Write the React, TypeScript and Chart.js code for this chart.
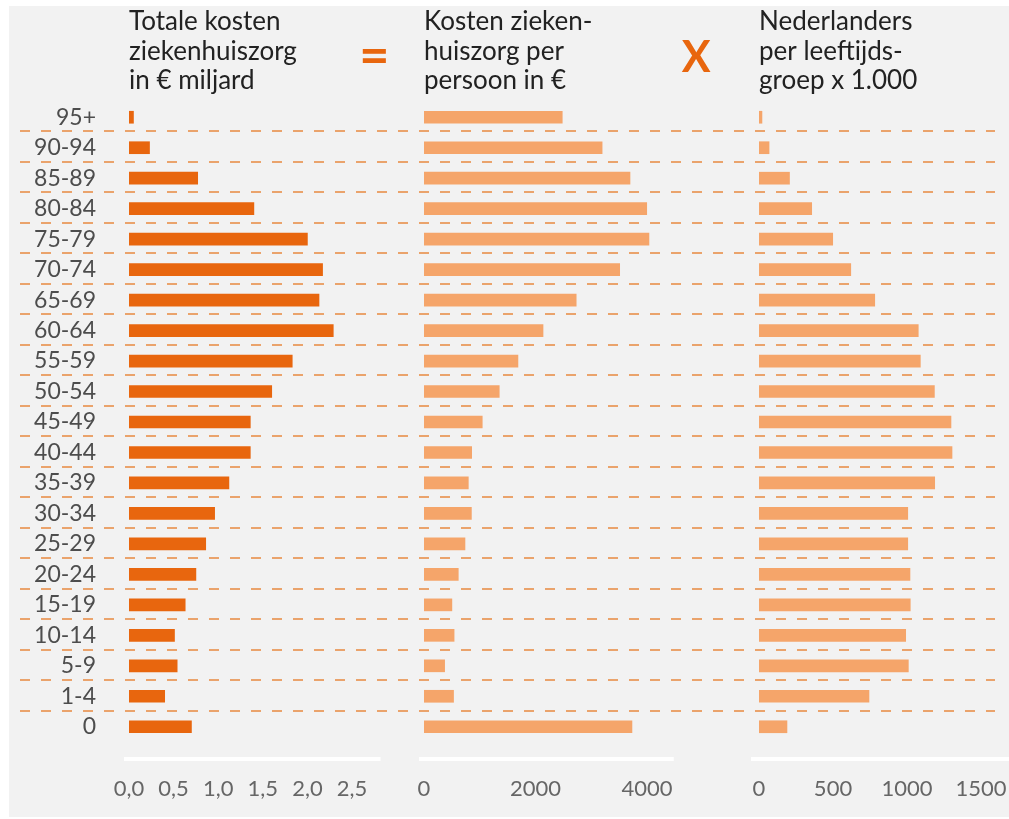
import React, { useEffect, useRef } from 'react';
import { Chart, registerables } from 'chart.js';

Chart.register(...registerables);

// ---- Data -----------------------------------------------------------------
const ageGroups = [
  '95+', '90-94', '85-89', '80-84', '75-79', '70-74', '65-69', '60-64', '55-59', '50-54',
  '45-49', '40-44', '35-39', '30-34', '25-29', '20-24', '15-19', '10-14', '5-9', '1-4', '0',
];

// Totale kosten ziekenhuiszorg in € miljard
const totalCostBillion = [
  0.05, 0.23, 0.77, 1.4, 2.0, 2.17, 2.13, 2.29, 1.83, 1.6,
  1.36, 1.36, 1.12, 0.96, 0.86, 0.75, 0.63, 0.51, 0.54, 0.4, 0.7,
];

// Kosten ziekenhuiszorg per persoon in €
const costPerPerson = [
  2480, 3195, 3695, 3995, 4035, 3510, 2730, 2135, 1685, 1350,
  1045, 855, 795, 850, 735, 615, 500, 540, 370, 530, 3730,
];

// Nederlanders per leeftijdsgroep x 1.000
const populationThousands = [
  20, 68, 206, 356, 498, 620, 782, 1076, 1090, 1185,
  1297, 1304, 1187, 1005, 1005, 1020, 1022, 991, 1009, 743, 189,
];

const ticksPanel1 = [0, 0.5, 1, 1.5, 2, 2.5];
const ticksPanel2 = [0, 2000, 4000];
const ticksPanel3 = [0, 500, 1000, 1500];

const titlePanel1 = ['Totale kosten', 'ziekenhuiszorg', 'in € miljard'];
const titlePanel2 = ['Kosten zieken-', 'huiszorg per', 'persoon in €'];
const titlePanel3 = ['Nederlanders', 'per leeftijds-', 'groep x 1.000'];
const symbolEquals = '=';
const symbolTimes = 'X';

// ---- Styles / layout ------------------------------------------------------
const W = 1009;
const H = 819;
const DARK = '#E8660E';
const LIGHT = '#F5A56A';
const DASH = '#EAA36C';
const FONT = 'Lato, "Open Sans", sans-serif';
const TICK_COLOR = '#666666';
const LABEL_COLOR = '#4D4D4D';
const TITLE_COLOR = '#222222';

const panelMax = [3.307, 6009, 1689];
const panelWeight = [295, 335, 250];
const baseLineEnd = [2.82, 4480, null as number | null];

const fmtComma = (v: number) => v.toFixed(1).replace('.', ',');
const fmtInt = (v: number) => String(v);

function xAxis(max: number, weight: number, ticks: number[], fmt: (v: number) => string) {
  return {
    type: 'linear' as const,
    position: 'bottom' as const,
    stack: 'panels',
    stackWeight: weight,
    min: 0,
    max,
    grid: { display: false, drawTicks: false },
    border: { display: false },
    afterBuildTicks: (s: any) => {
      s.ticks = ticks.map((v) => ({ value: v }));
    },
    afterFit: (s: any) => {
      s.height = 77;
      s.paddingLeft = 0;
      s.paddingRight = 0;
    },
    ticks: {
      autoSkip: false,
      maxRotation: 0,
      minRotation: 0,
      padding: 34,
      color: TICK_COLOR,
      font: { family: FONT, size: 22 },
      callback: (v: any) => fmt(Number(v)),
    },
  };
}

const decorPlugin = {
  id: 'decor',
  beforeDatasetsDraw(chart: any) {
    const ctx = chart.ctx as CanvasRenderingContext2D;
    const y = chart.scales.y;
    ctx.save();
    // dashed separators between age groups
    ctx.strokeStyle = DASH;
    ctx.lineWidth = 2;
    ctx.setLineDash([10, 11]);
    for (let i = 0; i < ageGroups.length - 1; i++) {
      const py = Math.round((y.getPixelForValue(i) + y.getPixelForValue(i + 1)) / 2) - 1;
      ctx.beginPath();
      ctx.moveTo(20, py);
      ctx.lineTo(995, py);
      ctx.stroke();
    }
    ctx.setLineDash([]);
    // white base lines under each panel
    const baseY = chart.chartArea.bottom + 17;
    ctx.strokeStyle = '#FFFFFF';
    ctx.lineWidth = 4;
    ['x1', 'x2', 'x3'].forEach((id, k) => {
      const s = chart.scales[id];
      const x0 = s.getPixelForValue(0) - (k === 2 ? 8 : 5);
      const end = baseLineEnd[k];
      const x1 = end === null ? chart.width : s.getPixelForValue(end);
      ctx.beginPath();
      ctx.moveTo(x0, baseY);
      ctx.lineTo(x1, baseY);
      ctx.stroke();
    });
    ctx.restore();
  },
  afterDraw(chart: any) {
    const ctx = chart.ctx as CanvasRenderingContext2D;
    ctx.save();
    ctx.fillStyle = TITLE_COLOR;
    ctx.font = `26px ${FONT}`;
    ctx.textAlign = 'left';
    ctx.textBaseline = 'alphabetic';
    const titles = [titlePanel1, titlePanel2, titlePanel3];
    ['x1', 'x2', 'x3'].forEach((id, k) => {
      const left = chart.scales[id].getPixelForValue(0);
      titles[k].forEach((line, j) => {
        ctx.fillText(line, left, 30 + j * 29.5);
      });
    });
    ctx.fillStyle = DARK;
    ctx.textAlign = 'center';
    ctx.textBaseline = 'middle';
    ctx.font = `bold 52px ${FONT}`;
    ctx.fillText(symbolEquals, chart.scales.x1.getPixelForValue(2.75), 56);
    ctx.font = `bold 43px ${FONT}`;
    ctx.fillText(symbolTimes, chart.scales.x2.getPixelForValue(4880), 58);
    ctx.restore();
  },
};

export default function App() {
  const canvasRef = useRef<HTMLCanvasElement | null>(null);

  useEffect(() => {
    if (!canvasRef.current) return;
    const chart = new Chart(canvasRef.current, {
      type: 'bar',
      data: {
        labels: ageGroups,
        datasets: [
          { label: 'Totale kosten', data: totalCostBillion, xAxisID: 'x1', backgroundColor: DARK },
          { label: 'Kosten per persoon', data: costPerPerson, xAxisID: 'x2', backgroundColor: LIGHT },
          { label: 'Nederlanders', data: populationThousands, xAxisID: 'x3', backgroundColor: LIGHT },
        ],
      },
      options: {
        responsive: false,
        animation: false,
        indexAxis: 'y',
        layout: { padding: { top: 102, left: 0, right: 0, bottom: 0 } },
        plugins: { legend: { display: false }, tooltip: { enabled: false } },
        datasets: { bar: { grouped: false, barThickness: 12 } },
        scales: {
          y: {
            type: 'category',
            position: 'left',
            grid: { display: false, drawTicks: false },
            border: { display: false },
            afterFit: (s: any) => {
              s.width = 129;
            },
            ticks: {
              autoSkip: false,
              color: LABEL_COLOR,
              padding: 33,
              font: { family: FONT, size: 23 },
            },
          },
          x1: xAxis(panelMax[0], panelWeight[0], ticksPanel1, fmtComma),
          x2: xAxis(panelMax[1], panelWeight[1], ticksPanel2, fmtInt),
          x3: xAxis(panelMax[2], panelWeight[2], ticksPanel3, fmtInt),
        } as any,
      },
      plugins: [decorPlugin],
    } as any);
    return () => chart.destroy();
  }, []);

  return (
    <div style={{ position: 'absolute', left: 0, top: 0, width: W, height: H, background: '#FFFFFF', overflow: 'hidden' }}>
      <div style={{ position: 'absolute', left: 9, top: 6, right: 0, bottom: 2, background: '#F2F2F2' }} />
      <canvas ref={canvasRef} width={W} height={H} style={{ position: 'absolute', left: 0, top: 0, width: W, height: H }} />
    </div>
  );
}
